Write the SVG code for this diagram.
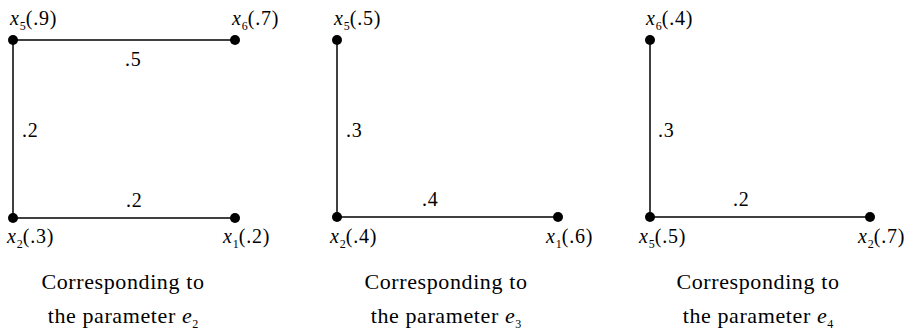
<svg xmlns="http://www.w3.org/2000/svg" width="915" height="335" viewBox="0 0 915 335">
<style>
text{font-family:"Liberation Serif","DejaVu Serif","Times New Roman",serif;fill:#000;font-size:20px;letter-spacing:0.8px}
.cap{font-size:22px;text-anchor:middle;letter-spacing:0.6px}
.it{font-style:italic}
.sub{font-size:12px;letter-spacing:0}
line{stroke:#000;stroke-width:1.5}
circle{fill:#000}
</style>
<rect width="915" height="335" fill="#fff"/>
<g font-family="Liberation Serif, DejaVu Serif, serif">
<g id="connectors">
  <line x1="13" y1="40" x2="235" y2="40"/>
  <line x1="13" y1="40" x2="13" y2="218"/>
  <line x1="13" y1="218" x2="235" y2="218"/>
  <line x1="337" y1="40" x2="337" y2="217"/>
  <line x1="337" y1="217" x2="558" y2="217"/>
  <line x1="650" y1="40" x2="650" y2="217"/>
  <line x1="650" y1="217" x2="870" y2="217"/>
  <text x="125" y="66">.5</text>
  <text x="22" y="137">.2</text>
  <text x="126" y="207">.2</text>
  <text x="346" y="137">.3</text>
  <text x="422" y="206">.4</text>
  <text x="658" y="137">.3</text>
  <text x="733" y="206">.2</text>
</g>
<g id="d1-x5"><circle cx="13" cy="40" r="5"/><text x="10" y="25"><tspan class="it">x</tspan><tspan class="sub" dy="5">5</tspan><tspan dy="-5">(.9)</tspan></text></g>
<g id="d1-x6"><circle cx="235" cy="40" r="5"/><text x="232" y="25"><tspan class="it">x</tspan><tspan class="sub" dy="5">6</tspan><tspan dy="-5">(.7)</tspan></text></g>
<g id="d1-x2"><circle cx="13" cy="218" r="5"/><text x="7" y="243"><tspan class="it">x</tspan><tspan class="sub" dy="5">2</tspan><tspan dy="-5">(.3)</tspan></text></g>
<g id="d1-x1"><circle cx="235" cy="218" r="5"/><text x="223" y="243"><tspan class="it">x</tspan><tspan class="sub" dy="5">1</tspan><tspan dy="-5">(.2)</tspan></text></g>
<g id="d2-x5"><circle cx="337" cy="40" r="5"/><text x="334" y="25"><tspan class="it">x</tspan><tspan class="sub" dy="5">5</tspan><tspan dy="-5">(.5)</tspan></text></g>
<g id="d2-x2"><circle cx="337" cy="217" r="5"/><text x="330" y="243"><tspan class="it">x</tspan><tspan class="sub" dy="5">2</tspan><tspan dy="-5">(.4)</tspan></text></g>
<g id="d2-x1"><circle cx="558" cy="217" r="5"/><text x="546" y="243"><tspan class="it">x</tspan><tspan class="sub" dy="5">1</tspan><tspan dy="-5">(.6)</tspan></text></g>
<g id="d3-x6"><circle cx="650" cy="40" r="5"/><text x="646" y="25"><tspan class="it">x</tspan><tspan class="sub" dy="5">6</tspan><tspan dy="-5">(.4)</tspan></text></g>
<g id="d3-x5"><circle cx="650" cy="217" r="5"/><text x="639" y="243"><tspan class="it">x</tspan><tspan class="sub" dy="5">5</tspan><tspan dy="-5">(.5)</tspan></text></g>
<g id="d3-x2"><circle cx="870" cy="217" r="5"/><text x="858" y="243"><tspan class="it">x</tspan><tspan class="sub" dy="5">2</tspan><tspan dy="-5">(.7)</tspan></text></g>
<g id="caption1"><text class="cap" x="123" y="289">Corresponding to</text><text class="cap" x="123" y="323">the parameter <tspan class="it">e</tspan><tspan class="sub" dy="5">2</tspan></text></g>
<g id="caption2"><text class="cap" x="446" y="289">Corresponding to</text><text class="cap" x="446" y="323">the parameter <tspan class="it">e</tspan><tspan class="sub" dy="5">3</tspan></text></g>
<g id="caption3"><text class="cap" x="758" y="289">Corresponding to</text><text class="cap" x="758" y="323">the parameter <tspan class="it">e</tspan><tspan class="sub" dy="5">4</tspan></text></g>
</g>
</svg>
